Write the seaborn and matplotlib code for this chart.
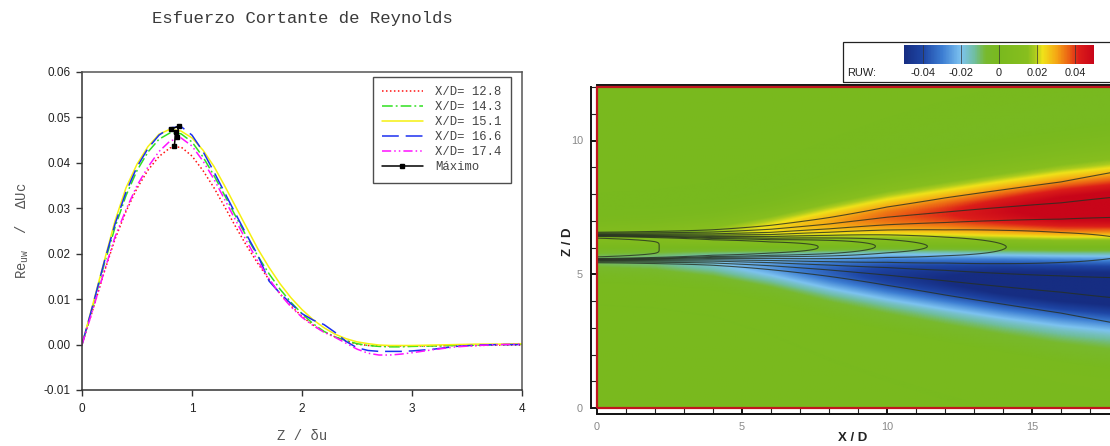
import numpy as np
import pandas as pd
import matplotlib
matplotlib.use("Agg")
import matplotlib.pyplot as plt
import seaborn as sns
from matplotlib.colors import LinearSegmentedColormap, Normalize
from matplotlib.patches import Rectangle
from matplotlib.lines import Line2D
from matplotlib.ticker import MultipleLocator, FixedLocator

sns.set_theme(style="white")
plt.rcParams["font.family"] = ["Liberation Sans", "DejaVu Sans"]
plt.rcParams["mathtext.fontset"] = "custom"
plt.rcParams["mathtext.rm"] = "Liberation Mono"
plt.rcParams["mathtext.it"] = "Liberation Mono"
plt.rcParams["axes.unicode_minus"] = False

MONO = "Liberation Mono"

# ---------------- Reynolds shear stress profiles (Z / delta_u) ----------------
z_du = [0.0, 0.1, 0.2, 0.3, 0.4, 0.5, 0.6, 0.7, 0.8, 0.9, 1.0, 1.1, 1.2, 1.3, 1.4,
        1.5, 1.6, 1.7, 1.8, 1.9, 2.0, 2.1, 2.2, 2.3, 2.4, 2.5, 2.6, 2.7, 2.8, 2.9,
        3.0, 3.2, 3.4, 3.6, 3.8, 4.0]

ruw_128 = [0.0, 0.0078, 0.0158, 0.0232, 0.0293, 0.0344, 0.0384, 0.0414, 0.0433, 0.0435,
           0.0415, 0.0383, 0.0345, 0.0302, 0.0258, 0.0216, 0.0178, 0.0143, 0.0112, 0.0085,
           0.0062, 0.0043, 0.0028, 0.0017, 0.0008, 0.0001, -0.0002, -0.0003, -0.0003, -0.0003,
           -0.0003, -0.0003, -0.0002, -0.0002, -0.0001, -0.0001]
ruw_143 = [0.0, 0.0085, 0.0175, 0.0258, 0.0328, 0.0383, 0.0424, 0.0452, 0.0466, 0.0464,
           0.0446, 0.0413, 0.0372, 0.0327, 0.0281, 0.0236, 0.0194, 0.0156, 0.0122, 0.0093,
           0.0068, 0.0046, 0.0029, 0.0017, 0.0009, 0.0002, -0.0002, -0.0004, -0.0005, -0.0005,
           -0.0004, -0.0003, -0.0002, -0.0001, 0.0, 0.0001]
ruw_151 = [0.0, 0.0090, 0.0182, 0.0272, 0.0345, 0.0397, 0.0436, 0.0463, 0.0474, 0.0470,
           0.0455, 0.0428, 0.0392, 0.0348, 0.0302, 0.0256, 0.0210, 0.0170, 0.0134, 0.0103,
           0.0077, 0.0055, 0.0037, 0.0023, 0.0013, 0.0006, 0.0002, -0.0001, -0.0002, -0.0002,
           -0.0002, -0.0001, 0.0, 0.0001, 0.0001, 0.0002]
ruw_166 = [0.0, 0.0088, 0.0180, 0.0265, 0.0336, 0.0391, 0.0432, 0.0461, 0.0477, 0.0480,
           0.0461, 0.0425, 0.0380, 0.0333, 0.0286, 0.0240, 0.0196, 0.0140, 0.0113, 0.0090,
           0.0068, 0.0054, 0.0044, 0.0027, 0.0007, -0.0007, -0.0013, -0.0015, -0.0015, -0.0015,
           -0.0014, -0.0010, -0.0004, -0.0001, 0.0, 0.0]
ruw_174 = [0.0, 0.0078, 0.0160, 0.0237, 0.0297, 0.0350, 0.0391, 0.0425, 0.0448, 0.0455,
           0.0437, 0.0404, 0.0364, 0.0318, 0.0272, 0.0226, 0.0183, 0.0145, 0.0111, 0.0083,
           0.0060, 0.0042, 0.0027, 0.0016, 0.0003, -0.0010, -0.0019, -0.0023, -0.0023, -0.0021,
           -0.0018, -0.0011, -0.0005, -0.0002, 0.0, 0.0001]

series_names = ["X/D= 12.8", "X/D= 14.3", "X/D= 15.1", "X/D= 16.6", "X/D= 17.4"]
series_values = [ruw_128, ruw_143, ruw_151, ruw_166, ruw_174]

# location of each profile maximum
max_z = [0.84, 0.85, 0.81, 0.88, 0.86]
max_ruw = [0.0437, 0.0467, 0.0474, 0.0481, 0.0456]

y_ticks = [-0.01, 0.0, 0.01, 0.02, 0.03, 0.04, 0.05, 0.06]
x_ticks = [0, 1, 2, 3, 4]

# ---------------- RUW map along the jet (X/D, Z/D) ----------------
x_station = [0, 2, 4, 6, 8, 10, 12, 14, 16, 18]
jet_axis = [6.0, 6.0, 6.0, 6.0, 6.02, 6.05, 6.04, 6.02, 6.0, 6.0]
shear_width = [0.55, 0.58, 0.66, 0.84, 1.08, 1.28, 1.45, 1.60, 1.74, 1.86]
peak_upper = [0.010, 0.012, 0.017, 0.024, 0.030, 0.036, 0.041, 0.048, 0.055, 0.058]
peak_lower = [-0.010, -0.012, -0.018, -0.026, -0.035, -0.044, -0.050, -0.056, -0.059, -0.060]
# mean-velocity field used for the overlaid isolines
u_centre = [1.0, 0.982, 0.954, 0.926, 0.894, 0.839, 0.783, 0.723, 0.670, 0.620]
u_half = [0.50, 0.50, 0.50, 0.56, 0.68, 0.84, 1.00, 1.20, 1.40, 1.66]
u_shape = [10.0, 7.0, 4.5, 3.2, 2.6, 2.2, 2.0, 2.0, 2.0, 2.0]
u_levels = [0.08, 0.25, 0.45, 0.60, 0.72, 0.80, 0.85, 0.90, 0.98]

cbar_ticks = [-0.04, -0.02, 0.0, 0.02, 0.04]
cbar_labels = ["-0.04", "-0.02", "0", "0.02", "0.04"]

# ---------------- figure ----------------
W, H = 1110, 446
fig = plt.figure(figsize=(W / 100, H / 100), dpi=100)
fig.patch.set_facecolor("white")


def fx(px):
    return px / W


def fy(py):
    return 1 - py / H


# ---- left panel ----
ax1 = fig.add_axes([fx(82), fy(390), 440 / W, 318 / H])
frames = []
for name, vals in zip(series_names, series_values):
    frames.append(pd.DataFrame({"z": z_du, "ruw": vals, "serie": name}))
df = pd.concat(frames, ignore_index=True)

palette = {"X/D= 12.8": "#ff1010", "X/D= 14.3": "#30e020", "X/D= 15.1": "#f5f010",
           "X/D= 16.6": "#1c30f0", "X/D= 17.4": "#ff10ff"}
dashes = {"X/D= 12.8": (1, 1.6), "X/D= 14.3": (7, 2, 1.2, 2), "X/D= 15.1": "",
          "X/D= 16.6": (11, 4.5), "X/D= 17.4": (6, 2, 1, 2, 1, 2)}

sns.lineplot(data=df, x="z", y="ruw", hue="serie", style="serie", palette=palette,
             dashes=dashes, linewidth=1.1, legend=False, sort=False, estimator=None, ax=ax1)
ax1.plot(max_z, max_ruw, color="black", lw=1.1, marker="s", ms=2.5, zorder=5)

ax1.set_xlim(0, 4)
ax1.set_ylim(-0.01, 0.06)
ax1.xaxis.set_major_locator(FixedLocator(x_ticks))
ax1.yaxis.set_major_locator(FixedLocator(y_ticks))
ax1.set_xticklabels([str(t) for t in x_ticks])
ax1.set_yticklabels([f"{t:.2f}" for t in y_ticks])
ax1.tick_params(axis="both", direction="out", length=4, width=1, color="#333333",
                labelsize=8.5, labelcolor="#222222")
ax1.tick_params(axis="y", pad=4.5, left=True)
ax1.tick_params(axis="x", pad=5.5, bottom=True)
for side in ["left", "bottom"]:
    ax1.spines[side].set_color("#333333")
    ax1.spines[side].set_linewidth(1.1)
for side in ["top", "right"]:
    ax1.spines[side].set_color("#555555")
    ax1.spines[side].set_linewidth(1.1)
ax1.grid(False)
ax1.set_xlabel("Z / δu", family=MONO, fontsize=10, color="#555555")
ax1.xaxis.set_label_coords(0.5, -(436 - 390) / 318)
ax1.xaxis.label.set_va("center")
ax1.set_ylabel(r"Re$_{\rm uw}$  /  ΔUc", family=MONO, fontsize=10, color="#555555")
ax1.yaxis.set_label_coords((22 - 82) / 440, 0.5)
ax1.yaxis.label.set_va("center")

handles = []
for name in series_names:
    d = dashes[name]
    if d == "":
        handles.append(Line2D([], [], color=palette[name], lw=1.1, ls="-"))
    else:
        handles.append(Line2D([], [], color=palette[name], lw=1.1, dashes=d))
handles.append(Line2D([], [], color="black", lw=1.1, marker="s", ms=2.5))
leg = ax1.legend(handles, series_names + ["Máximo"], loc="upper right",
                 bbox_to_anchor=((511 - 82) / 440, (390 - 77) / 318), borderaxespad=0,
                 prop={"family": MONO, "size": 8.8}, frameon=True, fancybox=False,
                 handlelength=3.4, handletextpad=1.0, labelspacing=0.25, borderpad=0.75)
leg.get_frame().set_edgecolor("#222222")
leg.get_frame().set_linewidth(1.0)
for t in leg.get_texts():
    t.set_color("#444444")

fig.text(fx(302), fy(19), "Esfuerzo Cortante de Reynolds", family=MONO, fontsize=12.4,
         color="#3a3a3a", ha="center", va="center")

# ---- right panel ----
ax2 = fig.add_axes([fx(597), fy(408), 522 / W, 321 / H])
xg = np.linspace(0, 18, 541)
zg = np.linspace(0, 12, 601)
XX, ZZ = np.meshgrid(xg, zg)

axis_z = np.interp(XX, x_station, jet_axis)
width = np.interp(XX, x_station, shear_width)
dz = ZZ - axis_z
mean_profile = np.mean(np.array(series_values), axis=0)
mean_profile = mean_profile / mean_profile.max()
shape = np.interp(np.abs(dz) / width, z_du, mean_profile, right=0.0)
amp = np.where(dz >= 0, np.interp(XX, x_station, peak_upper),
               np.interp(XX, x_station, peak_lower))
ruw_map = amp * shape

uc = np.interp(XX, x_station, u_centre)
uh = np.interp(XX, x_station, u_half)
un = np.interp(XX, x_station, u_shape)
u_map = uc * np.exp(-np.log(2) * (np.abs(dz) / uh) ** un)

stops = [(-0.050, (22, 45, 130)), (-0.040, (30, 70, 165)), (-0.030, (60, 125, 210)),
         (-0.020, (125, 195, 240)), (-0.013, (112, 190, 160)), (-0.007, (120, 185, 45)),
         (0.000, (121, 185, 30)), (0.015, (135, 190, 30)), (0.019, (170, 203, 30)),
         (0.023, (240, 226, 25)), (0.030, (245, 170, 20)), (0.037, (235, 95, 20)),
         (0.042, (220, 30, 25)), (0.050, (200, 5, 25))]
ruw_cmap = LinearSegmentedColormap.from_list(
    "ruw", [((v + 0.05) / 0.1, tuple(c / 255 for c in col)) for v, col in stops])
norm = Normalize(-0.05, 0.05)

im = ax2.imshow(ruw_map, extent=[0, 18, 0, 12], origin="lower", cmap=ruw_cmap, norm=norm,
                aspect="auto", interpolation="bilinear", zorder=1)
ax2.contour(XX, ZZ, u_map, levels=u_levels, colors="#263022", linewidths=0.8, alpha=0.8,
            zorder=2)
ax2.add_patch(Rectangle((0, 0), 18, 12, fill=False, edgecolor="#c0161e", lw=1.6,
                        zorder=4, clip_on=False))
ax2.set_xlim(0, 18)
ax2.set_ylim(0, 12)
ax2.grid(False)
ax2.spines["left"].set_position(("outward", 4))
ax2.spines["bottom"].set_position(("outward", 4))
ax2.spines["top"].set_position(("outward", 1.5))
for side in ["left", "bottom", "top", "right"]:
    ax2.spines[side].set_color("#111111")
    ax2.spines[side].set_linewidth(1.4)
ax2.xaxis.set_major_locator(FixedLocator([0, 5, 10, 15]))
ax2.yaxis.set_major_locator(FixedLocator([0, 5, 10]))
ax2.xaxis.set_minor_locator(MultipleLocator(1))
ax2.yaxis.set_minor_locator(MultipleLocator(1))
ax2.tick_params(which="major", direction="in", length=4, width=1.4, color="#111111",
                labelsize=7.8, labelcolor="#888888")
ax2.tick_params(which="minor", direction="in", length=4, width=0.8, color="#222222")
ax2.tick_params(axis="x", which="both", bottom=True, top=False, pad=6)
ax2.tick_params(axis="y", which="both", left=True, right=False, pad=6)

fig.text(fx(853), fy(438), "X / D", fontsize=9.5, fontweight="bold", color="#222222",
         ha="center", va="center")
fig.text(fx(568), fy(242), "Z / D", fontsize=9.5, fontweight="bold", color="#222222",
         ha="center", va="center", rotation=90)

# ---- colour legend ----
fig.add_artist(Rectangle((fx(843), fy(82)), fx(1125) - fx(843), 40 / H,
                         transform=fig.transFigure, facecolor="none",
                         edgecolor="#222222", lw=0.9, zorder=0))
cax = fig.add_axes([fx(904), fy(64), 190 / W, 19 / H])
cb = fig.colorbar(im, cax=cax, orientation="horizontal", ticks=cbar_ticks)
cb.set_ticklabels(cbar_labels)
cb.outline.set_visible(False)
cax.tick_params(length=0, labelsize=7.9, pad=3, labelcolor="#222222")
for v in cbar_ticks:
    cax.axvline(v, color="#333333", lw=0.7, alpha=0.7)
fig.text(fx(847), fy(73), "RUW:", fontsize=7.9, color="#222222", ha="left", va="center")

fig.savefig("out.png", dpi=100, facecolor="white")
